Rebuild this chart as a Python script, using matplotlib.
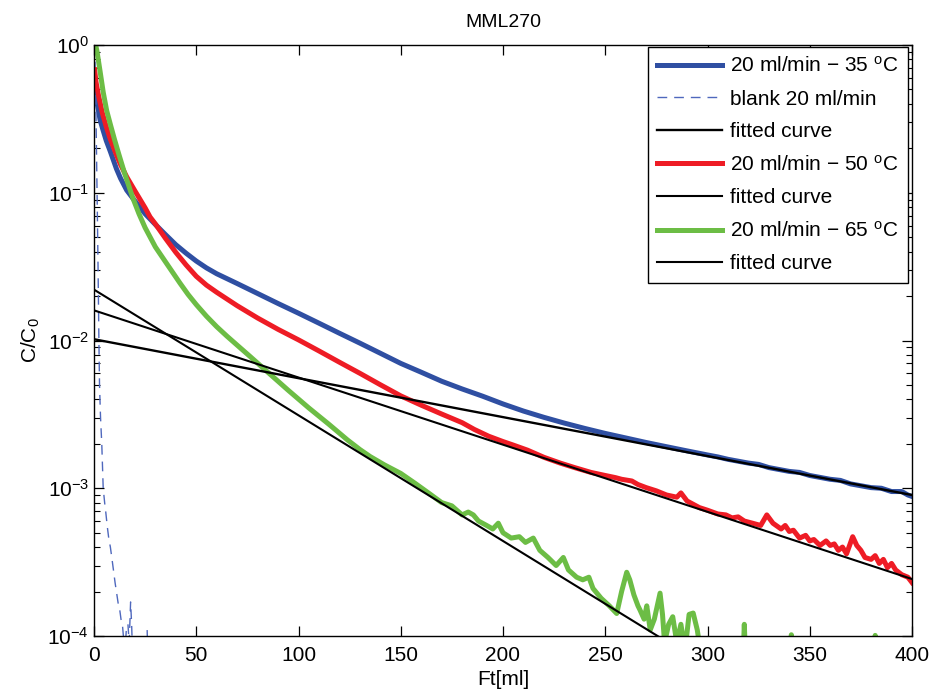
import numpy as np
import matplotlib
matplotlib.use("Agg")
import matplotlib.pyplot as plt

plt.rcParams['font.family'] = ['Liberation Sans', 'DejaVu Sans']
plt.rcParams['mathtext.fontset'] = 'custom'
plt.rcParams['mathtext.rm'] = 'Liberation Sans'
plt.rcParams['mathtext.it'] = 'Liberation Sans:italic'

# ---- data ----
blue_x = [0.3, 1, 2, 3, 4.4, 6, 8, 11, 13, 16, 20, 25, 30, 35, 40, 45, 50, 55, 60, 70, 80, 90,
          100, 110, 120, 130, 140, 150, 160, 170, 180, 190, 200, 210, 220, 230, 240, 250,
          260, 270, 280, 290, 300, 305, 310, 320, 325, 330, 340, 345, 350, 360, 365, 370,
          380, 385, 390, 395, 398, 400]
blue_y = [0.55, 0.45, 0.37, 0.31, 0.266, 0.225, 0.19, 0.145, 0.125, 0.104, 0.088, 0.072,
          0.061, 0.052, 0.0445, 0.039, 0.0345, 0.031, 0.0283, 0.0243, 0.0208, 0.0178, 0.0153,
          0.0131, 0.0112, 0.0096, 0.0082, 0.0070, 0.0061, 0.0053, 0.0047, 0.0042, 0.00372,
          0.00333, 0.00302, 0.00276, 0.00254, 0.00235, 0.00219, 0.00204, 0.00191, 0.00179,
          0.00168, 0.00163, 0.00157, 0.00148, 0.00145, 0.00138, 0.00130, 0.00128, 0.00122,
          0.00115, 0.00113, 0.00107, 0.00101, 0.00100, 0.00095, 0.00095, 0.00090, 0.00088]

blank_x = [0.3, 0.8, 1.2, 1.6, 2.0, 2.4, 2.7, 3.2, 3.8, 4.5, 5.2, 5.8, 6.5, 7.2, 8.0, 8.7,
           9.5, 10.3, 11.2, 12.0, 12.6, 13.2, 14.0, 14.5, 15.2, 15.8, 16.6, 17.2, 17.9, 18.4,
           18.8, 20.0, 25.5, 26.0, 26.5]
blank_y = [1.0, 0.5, 0.2, 0.08, 0.03, 0.01, 0.005, 0.003, 0.002, 0.001, 0.0008, 0.00068,
           0.00055, 0.00046, 0.0004, 0.00034, 0.00028, 0.00023, 0.00019, 0.00016, 0.00015,
           0.00013, 0.000115, 0.000095, 0.00008, 0.00011, 0.00012, 0.00009, 0.00017, 0.00012,
           0.00008, 0.00005, 0.00005, 0.00011, 0.00005]

red_x = [0.3, 1, 2, 4, 6, 8, 11, 13, 16, 20, 25, 27.4, 30, 35, 40, 45, 50, 55, 60, 70, 80, 90,
         100, 110, 120, 130, 140, 150, 160, 170, 180, 186, 193, 200, 205, 212, 220, 228, 235,
         243, 250, 255, 258, 263, 266, 270, 275, 280, 285, 287, 290, 296, 300, 305, 309, 312,
         315, 318, 322, 326, 329, 332, 336, 338, 340, 342, 345, 348, 350, 352, 355, 358, 360,
         362, 364, 366, 368, 371, 373, 375, 377, 380, 382, 384, 386, 388, 390, 392, 395, 398,
         400]
red_y = [0.68, 0.56, 0.47, 0.35, 0.28, 0.23, 0.18, 0.155, 0.128, 0.103, 0.079, 0.0686, 0.0615,
         0.049, 0.0395, 0.0325, 0.0272, 0.0237, 0.0212, 0.0172, 0.0142, 0.0119, 0.0101,
         0.0085, 0.00713, 0.006, 0.00502, 0.00422, 0.00365, 0.00318, 0.00278, 0.0025,
         0.00225, 0.00207, 0.00196, 0.00181, 0.00162, 0.00148, 0.00138, 0.00128, 0.00122,
         0.00118, 0.00115, 0.00112, 0.00106, 0.00101, 0.00096, 0.0009, 0.00087, 0.00093,
         0.00082, 0.00074, 0.00071, 0.00067, 0.00066, 0.00063, 0.00064, 0.0006, 0.00058,
         0.00056, 0.00066, 0.00058, 0.00053, 0.00056, 0.00051, 0.00052, 0.00046, 0.00048,
         0.00044, 0.00045, 0.00041, 0.00044, 0.00041, 0.00042, 0.00038, 0.00040, 0.00036,
         0.00047, 0.00041, 0.00038, 0.00034, 0.00033, 0.00035, 0.00031, 0.00033, 0.00029,
         0.00031, 0.00028, 0.00026, 0.00025, 0.00023]

green_x = [0.2, 0.5, 1.5, 3, 4.5, 6.2, 8, 10, 12, 15, 19, 22, 25, 30, 35, 42, 46, 50, 55, 60,
           65, 70, 76.3, 85, 95, 105, 115, 124, 130, 135, 142, 150, 157, 164, 170, 175, 180,
           183, 185.5, 188, 192, 195, 197.7, 200, 204, 208, 211, 214.8, 218, 222, 226, 229.5,
           232, 236, 239, 242, 244, 248, 252, 255.6, 258, 260.5, 262, 264, 266, 267, 269,
           270.3, 272, 274, 276.8, 278, 279, 281, 283, 285, 287, 289, 291, 293, 295, 296.5,
           300, 310, 317, 318, 319, 330, 340, 341, 342, 360, 381, 382, 383, 400]
green_y = [1.2, 1.05, 0.9, 0.66, 0.48, 0.36, 0.29, 0.23, 0.185, 0.135, 0.092, 0.072, 0.058,
           0.043, 0.034, 0.0245, 0.0205, 0.0175, 0.0146, 0.0124, 0.0107, 0.0093, 0.0078,
           0.0061, 0.0046, 0.0035, 0.0027, 0.00212, 0.00183, 0.00164, 0.00144, 0.00126,
           0.00108, 0.00092, 0.0008, 0.00076, 0.00066, 0.00069, 0.00066, 0.0006, 0.00056,
           0.00053, 0.00058, 0.0005, 0.00046, 0.00047, 0.00043, 0.00046, 0.00038, 0.00034,
           0.0003, 0.00034, 0.00028, 0.00025, 0.00024, 0.00025, 0.00021, 0.00018, 0.00016,
           0.000142, 0.0002, 0.00027, 0.00024, 0.00019, 0.00016, 0.00015, 0.00013, 0.00016,
           0.00011, 0.00013, 0.000195, 0.00014, 0.00009, 0.00012, 0.000135, 0.00009, 0.00012,
           0.00008, 0.00014, 0.000143, 0.00011, 0.00008, 0.00006, 0.00005, 0.00005, 0.00012,
           0.00005, 0.00004, 0.00005, 0.000102, 0.00005, 0.00004, 0.00005, 0.000101, 0.00005,
           0.00004]

# fitted exponential curves (straight lines on log axis), end points
fit35_x = [0, 400]
fit35_y = [0.0102, 0.00090]
fit50_x = [0, 400]
fit50_y = [0.0160, 0.000243]
fit65_x = [0, 300]
fit65_y = [0.0221, 0.0000620]

labels = ["20 ml/min \u2212 35 $^{\\mathrm{o}}$C", "blank 20 ml/min", "fitted curve",
          "20 ml/min \u2212 50 $^{\\mathrm{o}}$C", "fitted curve",
          "20 ml/min \u2212 65 $^{\\mathrm{o}}$C", "fitted curve"]

c_blue = '#2f4fa2'
c_red = '#ee1c25'
c_green = '#6cbd45'
c_blank = '#4f68bd'

fig = plt.figure(figsize=(9.34, 6.90), dpi=100)
ax = fig.add_axes([94/934, 1-636/690, 818/934, 591/690])

lw_data = 3.6
l1, = ax.plot(blue_x, blue_y, color=c_blue, lw=lw_data, label=labels[0], zorder=2,
              solid_joinstyle='round')
l2, = ax.plot(blank_x, blank_y, color=c_blank, lw=1.0, ls=(0, (7, 5)), label=labels[1], zorder=2)
l4, = ax.plot(red_x, red_y, color=c_red, lw=lw_data, label=labels[3], zorder=2,
              solid_joinstyle='round')
l6, = ax.plot(green_x, green_y, color=c_green, lw=lw_data, label=labels[5], zorder=2,
              solid_joinstyle='round')
l3, = ax.plot(fit35_x, fit35_y, color='black', lw=1.7, label=labels[2], zorder=3)
l5, = ax.plot(fit50_x, fit50_y, color='black', lw=1.5, label=labels[4], zorder=3)
l7, = ax.plot(fit65_x, fit65_y, color='black', lw=1.5, label=labels[6], zorder=3)

ax.set_yscale('log')
ax.set_xlim(0, 400)
ax.set_ylim(1e-4, 1)
ax.set_xticks(np.arange(0, 401, 50))
ax.tick_params(which='both', direction='in', top=True, right=True, labelsize=15)
ax.tick_params(axis='x', which='both', pad=7)
ax.tick_params(which='major', length=7, width=0.9)
ax.tick_params(which='minor', length=4, width=0.8)
for s in ax.spines.values():
    s.set_linewidth(1.0)

ax.set_title("MML270", fontsize=14, pad=13)
ax.set_xlabel("Ft[ml]", fontsize=15, labelpad=4)
ax.set_ylabel("C/C$_0$", fontsize=15, labelpad=4)

leg = ax.legend(handles=[l1, l2, l3, l4, l5, l6, l7], loc='upper right',
                bbox_to_anchor=(0.995, 0.997), borderaxespad=0, fontsize=15,
                frameon=True, fancybox=False, framealpha=1, edgecolor='black',
                handlelength=3.1, handletextpad=0.4, labelspacing=0.65,
                borderpad=0.45)
leg.get_frame().set_linewidth(1.0)

fig.savefig("out.png", dpi=100)
